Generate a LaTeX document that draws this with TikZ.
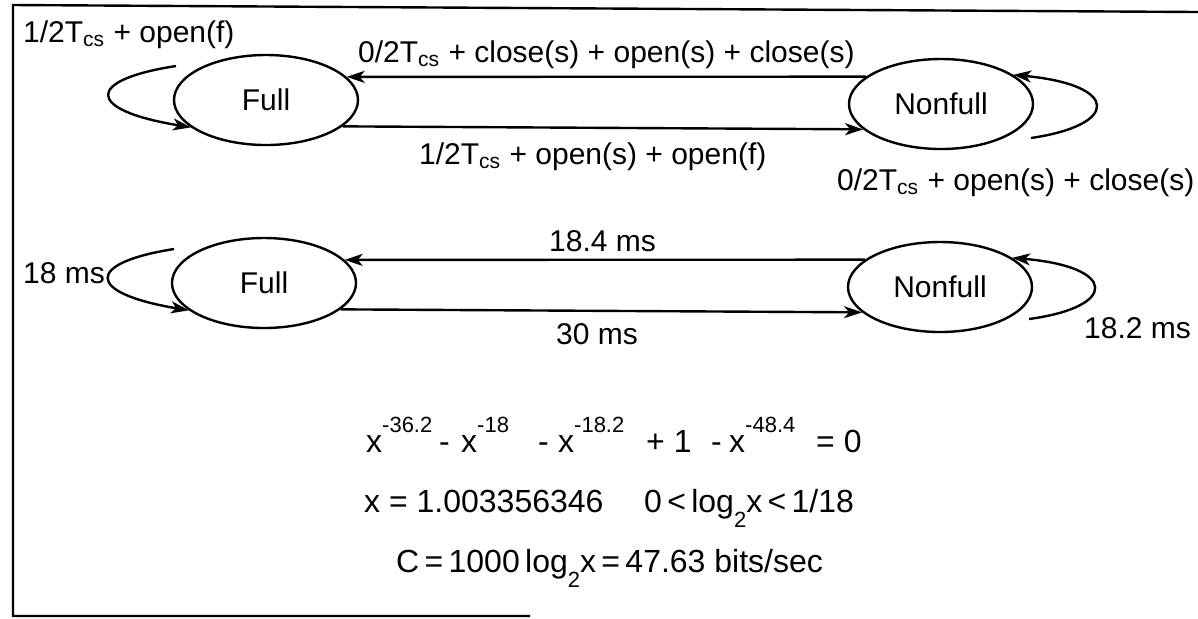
\documentclass[tikz,border=0pt]{standalone}
\usepackage{fontspec}
\setmainfont{Liberation Sans}
\usetikzlibrary{arrows,arrows.meta}
\usetikzlibrary{shapes.geometric}

\newcommand{\xsup}[1]{x\raisebox{1.15ex}{\fontsize{11}{12}\selectfont #1}}
\newcommand{\lowtwo}{\raisebox{-0.9ex}{\fontsize{11}{12}\selectfont 2}}

\begin{document}
\begin{tikzpicture}[x=0.5pt,y=-0.5pt,>={Stealth[length=9pt,width=6pt,inset=2.5pt]},line width=1.2pt,
  state/.style={draw, ellipse, minimum width=92pt, minimum height=45pt, font=\fontsize{15}{17}\selectfont},
  lbl/.style={font=\fontsize{15}{17}\selectfont, inner sep=0pt, anchor=base west},
  eqn/.style={font=\fontsize{16}{18}\selectfont, inner sep=0pt, anchor=base west}]
\useasboundingbox (0,0) rectangle (1198,618);
\draw[line width=1.2pt] (1198,12) -- (13,5) -- (13,616) -- (530,616); % frame

% symbolic chain
\node[state] (full) at (266,100) {Full};
\node[state] (nonfull) at (941,104) {Nonfull};
\draw[->] (nonfull.160) -- (full.16);
\draw[->] (full.341) -- (nonfull.198);
\coordinate (fs) at (176,66);
\draw[->] (fs) .. controls (85,80) and (85,110) .. (full.200); % self loop
\coordinate (ns) at (1031,138);
\draw[->] (ns) .. controls (1120,125) and (1120,85) .. (nonfull.22); % self loop

\node[lbl] (lff) at (22,42) {1/2T\textsubscript{cs} + open(f)};
\node[lbl] (lnf) at (357,62) {0/2T\textsubscript{cs} + close(s) + open(s) + close(s)};
\node[lbl] (lfn) at (418,164) {1/2T\textsubscript{cs} + open(s) + open(f)};
\node[lbl] (lnn) at (836,190) {0/2T\textsubscript{cs} + open(s) + close(s)};

% timed chain
\node[state] (full2) at (264,283) {Full};
\node[state] (nonfull2) at (940,287) {Nonfull};
\draw[->] (nonfull2.160) -- (full2.16);
\draw[->] (full2.341) -- (nonfull2.198);
\coordinate (fs2) at (174,249);
\draw[->] (fs2) .. controls (85,263) and (85,293) .. (full2.200); % self loop
\coordinate (ns2) at (1029,319);
\draw[->] (ns2) .. controls (1118,307) and (1118,267) .. (nonfull2.22); % self loop

\node[lbl] (tff) at (22,283) {18 ms};
\node[lbl] (tnf) at (548,251) {18.4 ms};
\node[lbl] (tfn) at (555,344) {30 ms};
\node[lbl] (tnn) at (1083,338) {18.2 ms};

% capacity
\node[eqn] (e1) at (365,452) {\xsup{-36.2}};
\node[eqn] (e2) at (438,452) {-};
\node[eqn] (e3) at (460,452) {\xsup{-18}};
\node[eqn] (e4) at (537,452) {-};
\node[eqn] (e5) at (557,452) {\xsup{-18.2}};
\node[eqn] (e6) at (645,452) {+ 1};
\node[eqn] (e7) at (710,452) {-};
\node[eqn] (e8) at (728,452) {\xsup{-48.4}};
\node[eqn] (e9) at (815,452) {= 0};
\node[eqn] (root) at (363,512) {x = 1.003356346};
\node[eqn] (bound) at (643,512) {0\,<\,log\lowtwo x\,<\,1/18};
\node[eqn] (cap) at (395,572) {C\,=\,1000\,log\lowtwo x\,=\,47.63 bits/sec};
\end{tikzpicture}
\end{document}
